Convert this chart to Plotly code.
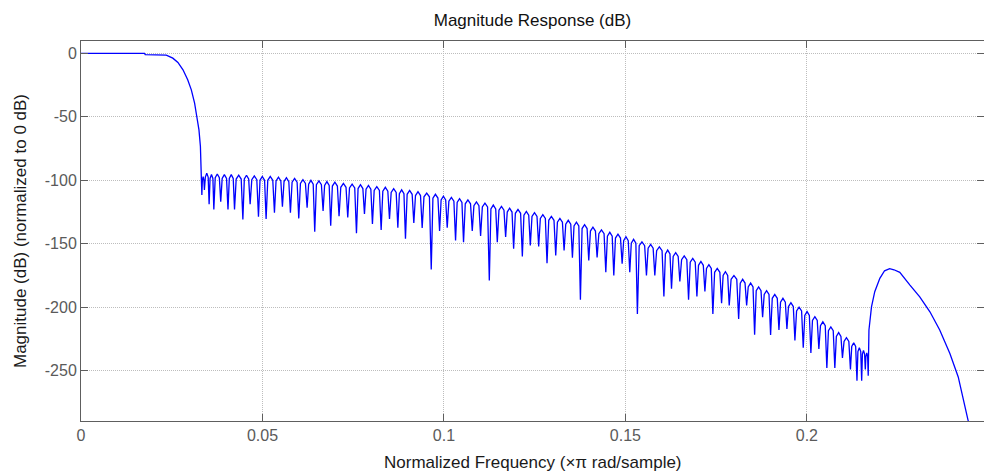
import plotly.graph_objects as go

# ---------------- data ----------------
# passband + transition band (normalized freq, dB)
pass_f = [0.0, 0.0175, 0.0177, 0.0230, 0.0235, 0.0253, 0.0267, 0.0281, 0.0294,
          0.0304, 0.0313, 0.0319, 0.0325, 0.0329, 0.0332]
pass_db = [0.0, 0.0, -0.9, -0.9, -1.4, -3.7, -7.1, -12.9, -20.8,
           -28.7, -39.2, -49.7, -60.3, -73.4, -93.0]

# stopband lobe nulls (freq, dB)
null_f = [0.0333, 0.0340, 0.0353, 0.0366, 0.0385, 0.0405, 0.0423, 0.0446, 0.0466, 0.0489,
          0.0510, 0.0533, 0.0555, 0.0577, 0.0600, 0.0623, 0.0644, 0.0667, 0.0688, 0.0711,
          0.0735, 0.0759, 0.0781, 0.0803, 0.0827, 0.0850, 0.0873, 0.0894, 0.0917, 0.0940,
          0.0965, 0.0988, 0.1009, 0.1032, 0.1054, 0.1078, 0.1101, 0.1125, 0.1147, 0.1170,
          0.1192, 0.1216, 0.1238, 0.1261, 0.1284, 0.1308, 0.1331, 0.1354, 0.1376, 0.1399,
          0.1422, 0.1446, 0.1468, 0.1491, 0.1512, 0.1533, 0.1558, 0.1581, 0.1606, 0.1627,
          0.1650, 0.1674, 0.1697, 0.1719, 0.1741, 0.1765, 0.1786, 0.1812, 0.1834, 0.1856,
          0.1878, 0.1900, 0.1923, 0.1945, 0.1967, 0.1990, 0.2011, 0.2033, 0.2055, 0.2077,
          0.2098, 0.2120, 0.2138, 0.2151, 0.2161, 0.2169]
null_db = [-111.6, -107.6, -118.9, -122.9, -116.8, -122.9, -122.9, -130.8, -118.9, -128.7,
           -130.5, -125.5, -120.8, -125.5, -130.0, -121.6, -140.5, -124.2, -135.8, -128.2,
           -129.2, -141.8, -126.6, -134.5, -139.2, -130.5, -137.4, -146.0, -133.7, -137.6,
           -170.3, -140.0, -137.4, -147.4, -148.7, -140.0, -143.9, -178.9, -148.7, -144.7,
           -153.9, -160.0, -151.3, -152.1, -165.3, -159.2, -155.3, -161.0, -194.2, -163.2,
           -160.8, -172.4, -175.0, -165.8, -172.4, -205.3, -175.0, -175.0, -191.6, -185.5,
           -179.7, -194.2, -191.6, -187.6, -205.3, -196.8, -198.7, -209.2, -198.7, -221.8,
           -207.9, -221.8, -217.9, -217.1, -226.3, -232.0, -236.0, -233.0, -248.0, -248.0,
           -240.0, -249.0, -258.0, -258.0, -249.0, -254.0]
# stopband lobe peaks (one per lobe, between consecutive nulls)
peak_db = [-97.0, -94.5, -95.5, -95.0, -95.5, -95.5, -96.0, -96.0, -96.5, -97.0,
           -97.0, -97.5, -98.0, -98.5, -99.5, -100.0, -100.5, -101.0, -101.5, -102.5,
           -103.0, -103.5, -104.0, -105.0, -105.5, -106.5, -107.5, -108.0, -109.0, -110.0,
           -111.0, -112.5, -113.5, -114.5, -115.5, -117.0, -118.0, -119.5, -120.5, -122.0,
           -123.0, -124.5, -125.5, -127.0, -128.5, -130.0, -131.5, -133.0, -135.0, -137.0,
           -139.0, -141.0, -142.5, -144.5, -146.5, -148.5, -150.5, -152.5, -155.0, -157.0,
           -159.5, -161.5, -164.0, -166.5, -169.5, -172.0, -175.0, -178.0, -181.0, -184.0,
           -187.0, -190.0, -193.0, -196.5, -200.0, -203.5, -207.5, -211.5, -215.5, -220.0,
           -224.0, -228.0, -232.0, -234.0, -236.0]

# final hump near the edge (freq, dB)
hump_f = [0.2171, 0.2178, 0.2187, 0.2201, 0.2214, 0.2228, 0.2240, 0.2256, 0.2284,
          0.2311, 0.2339, 0.2366, 0.2394, 0.2417, 0.2444, 0.2450]
hump_db = [-218.0, -199.7, -187.8, -177.3, -171.3, -169.6, -170.5, -172.5, -182.6,
           -191.8, -203.6, -218.0, -236.5, -255.0, -289.0, -295.0]

x_tickvals = [0, 0.05, 0.1, 0.15, 0.2]
x_ticktext = ["0", "0.05", "0.1", "0.15", "0.2"]
y_tickvals = [0, -50, -100, -150, -200, -250]
y_ticktext = ["0", "-50", "-100", "-150", "-200", "-250"]

# ---------------- build the polyline ----------------
xs = list(pass_f)
ys = list(pass_db)
for i in range(len(peak_db)):
    f0, f1 = null_f[i], null_f[i + 1]
    w = f1 - f0
    p = peak_db[i]
    xs += [f0, f0 + 0.2 * w, f0 + 0.5 * w, f0 + 0.8 * w]
    ys += [null_db[i], p - 3, p, p - 3]
xs.append(null_f[-1]); ys.append(null_db[-1])
xs += hump_f
ys += hump_db

W, H = 984, 474
L, R, T, B = 81, 0, 41, 53

fig = go.Figure()
fig.add_trace(go.Scatter(x=xs, y=ys, mode="lines",
                         line=dict(color="#0000ff", width=1.3),
                         hoverinfo="skip", showlegend=False))

FAM = "Liberation Sans, Arial, sans-serif"
tickfont = dict(family=FAM, size=16, color="#5a5a5a")
axis_common = dict(showline=True, linecolor="#5e5e5e", linewidth=1, mirror="allticks",
                   ticks="inside", ticklen=7, tickwidth=1, tickcolor="#5e5e5e",
                   showgrid=True, gridcolor="#bdbdbd", griddash="1px,1px", gridwidth=1,
                   zeroline=False, tickfont=tickfont)

fig.update_xaxes(range=[0, 0.2488], tickvals=x_tickvals, ticktext=x_ticktext,
                 **axis_common)
fig.update_yaxes(range=[-289.7, 9.8], tickvals=y_tickvals, ticktext=y_ticktext,
                 **axis_common)

lblfont = dict(family=FAM, size=17, color="#1a1a1a")
fig.update_layout(
    width=W, height=H,
    margin=dict(l=L, r=R, t=T, b=B, pad=0),
    paper_bgcolor="white", plot_bgcolor="white",
    title=dict(text="Magnitude Response (dB)", x=0.5, xref="paper",
               y=1 - 20 / H, yref="container", yanchor="middle", xanchor="center",
               font=dict(family=FAM, size=17, color="#111111")),
    annotations=[
        dict(text="Normalized Frequency (\u00d7\u03c0 rad/sample)", xref="paper", yref="paper",
             x=0.5, y=-(463 - 421) / (H - T - B), xanchor="center", yanchor="middle",
             showarrow=False, font=lblfont),
        dict(text="Magnitude (dB) (normalized to 0 dB)", xref="paper", yref="paper",
             x=-(L - 20) / (W - L - R), y=0.5, xanchor="center", yanchor="middle",
             textangle=-90, showarrow=False, font=lblfont),
    ],
)

fig.write_html("out.html")
